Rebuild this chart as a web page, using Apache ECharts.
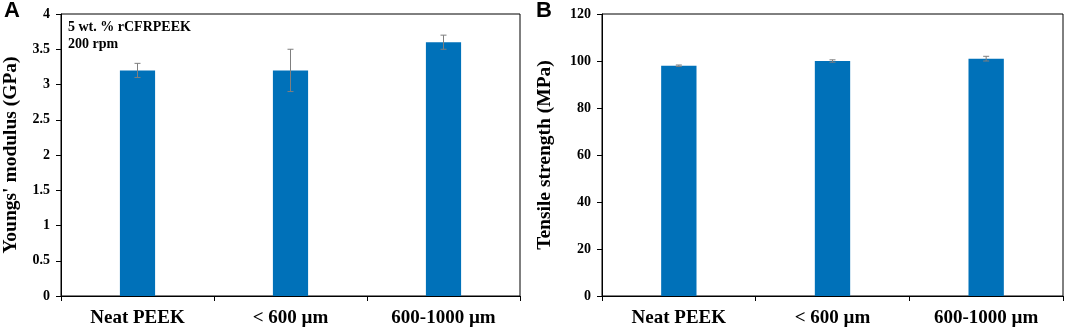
<!DOCTYPE html>
<html>
<head>
<meta charset="utf-8">
<script src="https://cdn.jsdelivr.net/npm/echarts@6/dist/echarts.min.js"></script>
<style>
  html, body { margin: 0; padding: 0; background: #fff; }
  #chart { width: 1065px; height: 330px; }
</style>
</head>
<body>
<div id="chart"></div>
<script>
const categories = ['Neat PEEK', '< 600 µm', '600-1000 µm'];
const modulus = [3.2, 3.2, 3.6];
const modulusErr = [0.1, 0.3, 0.1];
const strength = [98, 100, 101];
const strengthErr = [0.3, 0.5, 1];

const barColor = '#0071B9';
const serif = '"Liberation Serif", "Times New Roman", serif';

const myChart = echarts.init(document.getElementById('chart'));

// error bar drawn through the axis coords
const errorBar = (vals, errs) => (params, api) => {
    const i = api.value(0);
    const lo = api.coord([i, vals[i] - errs[i]]);
    const hi = api.coord([i, vals[i] + errs[i]]);
    const cap = 3;
    const style = { stroke: '#7f7f7f', lineWidth: 1 };
    return {
        type: 'group',
        children: [
            { type: 'line', shape: { x1: lo[0], y1: lo[1], x2: hi[0], y2: hi[1] }, style },
            { type: 'line', shape: { x1: hi[0] - cap, y1: hi[1], x2: hi[0] + cap, y2: hi[1] }, style },
            { type: 'line', shape: { x1: lo[0] - cap, y1: lo[1], x2: lo[0] + cap, y2: lo[1] }, style }
        ]
    };
};

const xAxisBase = (gridIndex) => ({
    type: 'category',
    gridIndex: gridIndex,
    data: categories,
    axisLine: { lineStyle: { color: '#000', width: 1 } },
    axisTick: { show: true, length: 5, lineStyle: { color: '#000' } },
    axisLabel: { color: '#000', fontFamily: serif, fontWeight: 'bold', fontSize: 19, margin: 13 }
});

const yAxisBase = (gridIndex, max, interval, name, gap) => ({
    type: 'value',
    gridIndex: gridIndex,
    min: 0,
    max: max,
    interval: interval,
    name: name,
    nameLocation: 'middle',
    nameGap: gap,
    nameTextStyle: { color: '#000', fontFamily: serif, fontWeight: 'bold', fontSize: 19.5 },
    axisLine: { show: true, lineStyle: { color: '#000', width: 1 } },
    axisTick: { show: true, length: 5, lineStyle: { color: '#000' } },
    axisLabel: { color: '#000', fontFamily: serif, fontWeight: 'bold', fontSize: 14, margin: 11 },
    splitLine: { show: false }
});

const option = {
    backgroundColor: '#fff',
    animation: false,
    grid: [
        { left: 57, right: 545, top: 14, bottom: 34, show: true, borderColor: '#000', borderWidth: 1 },
        { left: 602, right: 2, top: 14, bottom: 34, show: true, borderColor: '#000', borderWidth: 1 }
    ],
    xAxis: [xAxisBase(0), xAxisBase(1)],
    yAxis: [
        yAxisBase(0, 4, 0.5, "Youngs' modulus (GPa)", 40),
        yAxisBase(1, 120, 20, 'Tensile strength (MPa)', 47)
    ],
    graphic: [
        { type: 'text', left: 4, top: 0, style: { text: 'A', fontFamily: '"Liberation Sans", Arial, sans-serif', fontWeight: 'bold', fontSize: 22, fill: '#000' } },
        { type: 'text', left: 536, top: 0, style: { text: 'B', fontFamily: '"Liberation Sans", Arial, sans-serif', fontWeight: 'bold', fontSize: 22, fill: '#000' } },
        { type: 'text', left: 68, top: 19, style: { text: '5 wt. % rCFRPEEK\n200 rpm', lineHeight: 17, fontFamily: serif, fontWeight: 'bold', fontSize: 14, fill: '#000' } }
    ],
    series: [
        {
            type: 'bar', xAxisIndex: 0, yAxisIndex: 0, data: modulus,
            barWidth: '23%', itemStyle: { color: barColor }
        },
        {
            type: 'custom', xAxisIndex: 0, yAxisIndex: 0,
            data: modulus.map((v, i) => [i, v]),
            renderItem: errorBar(modulus, modulusErr), z: 5
        },
        {
            type: 'bar', xAxisIndex: 1, yAxisIndex: 1, data: strength,
            barWidth: '23%', itemStyle: { color: barColor }
        },
        {
            type: 'custom', xAxisIndex: 1, yAxisIndex: 1,
            data: strength.map((v, i) => [i, v]),
            renderItem: errorBar(strength, strengthErr), z: 5
        }
    ]
};

myChart.setOption(option);
window.addEventListener('resize', () => myChart.resize());
</script>
</body>
</html>
